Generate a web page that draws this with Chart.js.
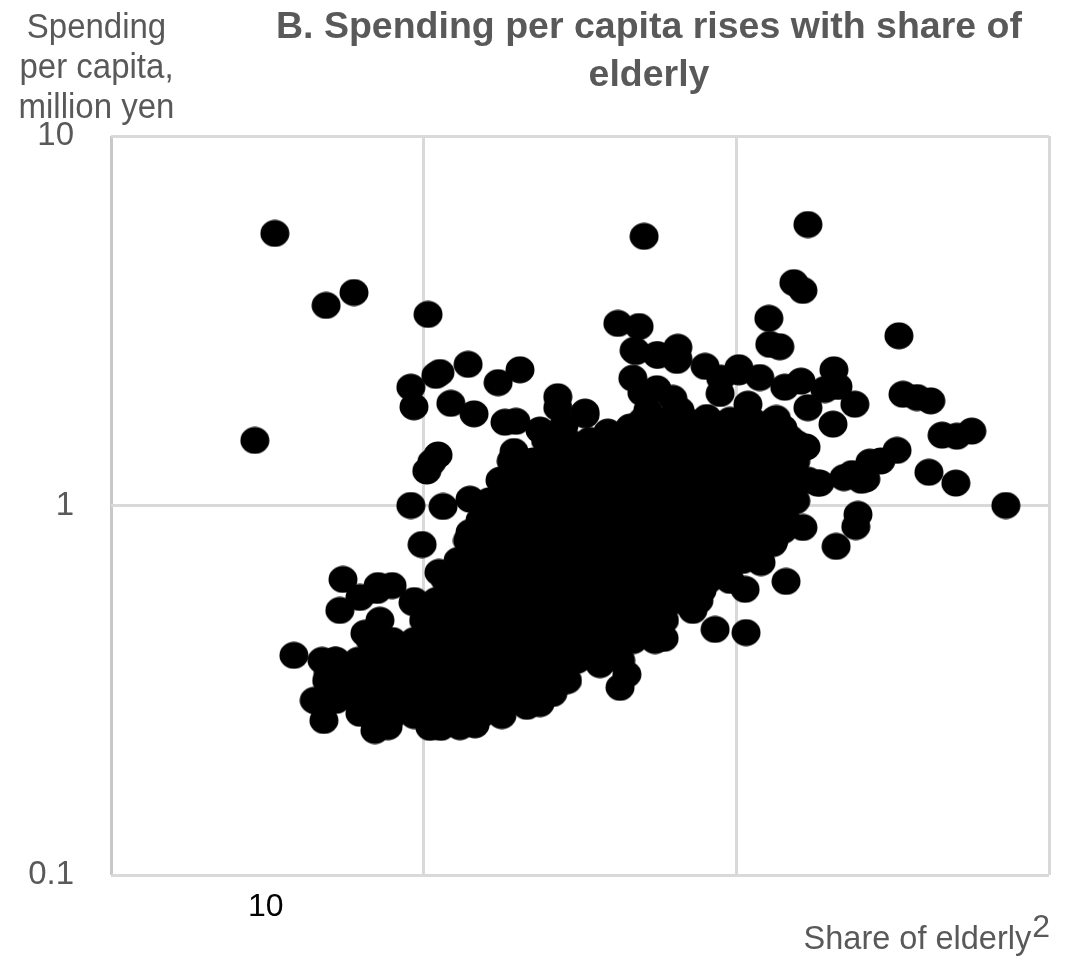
<!DOCTYPE html>
<html>
<head>
<meta charset="utf-8">
<script src="https://cdn.jsdelivr.net/npm/chart.js@4/dist/chart.umd.min.js"></script>
<style>
  html, body { margin: 0; padding: 0; background: #fff; }
  #wrap { position: relative; width: 1074px; height: 959px; overflow: hidden; font-family: "Liberation Sans", Arial, sans-serif; color: #595959; }
  canvas { position: absolute; left: 0; top: 0; }
  .lbl { position: absolute; text-align: center; white-space: nowrap; }
  #title { left: 249px; width: 800px; top: 1px; font-size: 37.5px; line-height: 48px; font-weight: bold; }
  #ylab { left: 0; width: 193px; top: 6px; font-size: 33px; line-height: 37px; transform: scaleY(1.08); transform-origin: top; }
  #xlab { right: 24px; top: 918px; font-size: 32.5px; line-height: 40px; }
  #xlab sup { font-size: 32px; line-height: 0; vertical-align: 12px; margin-left: 1px; }
</style>
</head>
<body>
<div id="wrap">
  <canvas id="c" width="1074" height="959"></canvas>
  <div class="lbl" id="title">B. Spending per capita rises with share of<br>elderly</div>
  <div class="lbl" id="ylab">Spending<br>per capita,<br>million yen</div>
  <div class="lbl" id="xlab">Share of elderly<sup>2</sup></div>
</div>
<script>
// x is read as position along the axis, 100 units per gridline
const xTickLabels = { 49.5: '10' };
const yTickLabels = { 0.1: '0.1', 1: '1', 10: '10' };

// points that stand clear of the cloud
const edgeShare = [52.4, 68.8, 77.7, 46, 101.4, 170.5, 222.9, 218.4, 221.3, 210.4, 210.7, 213.9, 252, 162.1, 168.9, 167.9, 174.6, 181.3, 181.3, 190, 200.8, 207.5, 200.8, 195, 215.5, 220.7, 231.2, 232.5, 228.3, 222.9, 237.9, 230.9, 253.3, 257.8, 262.2, 265.8, 270.5, 275.3, 251.4, 246.2, 242.7, 237, 234.4, 241.4, 261.6, 270.2, 286.2, 238.9, 238.2, 231.9, 215.9, 221.3, 207.9, 202.8, 203.1, 193.2, 185.8, 176.9, 162.8, 165, 156.4, 226.7, 222.3, 217.1, 212.8, 203.7,
  95.9, 96.9, 103.9, 105.2, 114.2, 123.8, 130.8, 108.7, 116.1, 126, 129.5, 142.9, 142.9, 137.2, 144.9, 151.6, 158.9, 151.9, 128.9, 104.6, 102.6, 101, 95.9, 106.2, 114.8, 99.5, 104.9, 74.2, 73.2, 58.5, 67.5, 71.6, 69.5, 65.9, 68.1, 84.4, 88.6, 85.4, 89.9, 79.6, 96.6, 84.4, 102, 105.5, 111.6, 116.4, 133, 137.2, 145.2,
  167.3, 174.9, 181, 166.9, 169.8, 174.6, 179.7, 171.7, 182, 194.8, 190.6, 214.9, 219.4, 226, 240, 214.9, 211.7, 195.7, 189, 186.1, 151.6, 151.6, 166, 124.4, 79.6, 81.2, 85.1, 141.3, 114.8, 115.8];
const edgeSpending = [5.45, 3.48, 3.77, 1.5, 3.29, 5.35, 5.76, 4.01, 3.82, 3.21, 2.73, 2.69, 2.88, 3.11, 3.05, 2.61, 2.56, 2.68, 2.5, 2.38, 2.36, 2.22, 2.3, 2.21, 2.09, 2.17, 2.33, 2.1, 2.06, 1.84, 1.88, 1.66, 2, 1.96, 1.92, 1.55, 1.54, 1.59, 1.41, 1.32, 1.31, 1.22, 1.19, 1.18, 1.23, 1.15, 1, 0.946, 0.877, 0.775, 0.623, 0.872, 0.701, 0.593, 0.453, 0.462, 0.533, 0.437, 0.322, 0.349, 0.371, 1.15, 1.44, 1.52, 1.72, 1.88,
  2.09, 1.85, 2.25, 2.29, 2.41, 2.15, 2.33, 1.89, 1.77, 1.68, 1.69, 1.97, 1.84, 1.6, 1.65, 1.76, 1.58, 1.41, 1.4, 1.37, 1.31, 1.24, 1, 0.994, 1.04, 0.784, 0.659, 0.631, 0.52, 0.393, 0.381, 0.381, 0.353, 0.295, 0.262, 0.246, 0.252, 0.607, 0.607, 0.564, 0.546, 0.459, 0.251, 0.251, 0.252, 0.255, 0.286, 0.291, 0.336,
  2.63, 2.55, 2.47, 2.21, 2.02, 2.07, 1.95, 1.81, 1.81, 2.01, 1.73, 1.62, 1.47, 1.15, 1.17, 0.856, 0.789, 0.659, 0.589, 0.52, 1.79, 1.44, 1.63, 1.17, 0.274, 0.451, 0.589, 0.31, 0.845, 0.77];

// the dense cloud, read band by band
const coreSpending = [1.7, 1.5, 1.32, 1.17, 1.03, 0.911, 0.804, 0.71, 0.627, 0.553, 0.489, 0.431, 0.381, 0.336, 0.297, 0.27];
const coreShare = [
  [170, 177, 184, 191, 198, 205, 212],
  [139, 146, 153, 160, 167, 174, 181, 188, 195, 202, 209, 216],
  [128, 135, 142, 149, 156, 163, 170, 177, 184, 191, 198, 205, 212, 219],
  [125, 132, 139, 146, 153, 160, 167, 174, 181, 188, 195, 202, 209, 216, 223],
  [121, 128, 135, 142, 149, 156, 163, 170, 177, 184, 191, 198, 205, 212, 219],
  [118, 125, 132, 139, 146, 153, 160, 167, 174, 181, 188, 195, 202, 209, 216],
  [114, 121, 128, 135, 142, 149, 156, 163, 170, 177, 184, 191, 198, 205, 212],
  [111, 118, 125, 132, 139, 146, 153, 160, 167, 174, 181, 188, 195, 202],
  [107, 114, 121, 128, 135, 142, 149, 156, 163, 170, 177, 184, 191, 198],
  [97, 104, 111, 118, 125, 132, 139, 146, 153, 160, 167, 174, 181, 188],
  [86, 100, 107, 114, 121, 128, 135, 142, 149, 156, 163, 170, 177],
  [83, 90, 97, 104, 111, 118, 125, 132, 139, 146, 153, 160, 167, 174],
  [72, 79, 86, 93, 100, 107, 114, 121, 128, 135, 142, 149, 156, 163],
  [69, 76, 83, 90, 97, 104, 111, 118, 125, 132, 139, 146],
  [65, 72, 79, 86, 93, 100, 107, 114, 121, 128, 135],
  [83, 90, 97, 104, 111, 118, 125]
];

const points = edgeShare.map((x, i) => ({ x, y: edgeSpending[i] }));
coreShare.forEach((row, i) => row.forEach(x => points.push({ x, y: coreSpending[i] })));

// markers in the picture are slightly wider than tall
const dot = document.createElement('canvas');
dot.width = 30; dot.height = 28;
const dctx = dot.getContext('2d');
dctx.fillStyle = '#000';
dctx.beginPath();
dctx.ellipse(15, 14, 14.5, 13.5, 0, 0, Math.PI * 2);
dctx.fill();

new Chart(document.getElementById('c'), {
  type: 'scatter',
  data: { datasets: [{ data: points, pointStyle: dot, pointRadius: 14, pointHoverRadius: 14 }] },
  options: {
    responsive: false,
    animation: false,
    layout: { padding: { top: 136, right: 25, left: 0, bottom: 0 } },
    plugins: { legend: { display: false }, tooltip: { enabled: false } },
    scales: {
      x: {
        type: 'linear', min: 0, max: 300,
        afterFit: s => { s.height = 84; },
        afterBuildTicks: s => { s.ticks = [0, 49.5, 100, 200, 300].map(value => ({ value })); },
        grid: {
          color: c => {
            if (!c.tick || c.tick.value % 100 !== 0) return 'rgba(0,0,0,0)';
            return c.tick.value === 0 ? '#c8c8c8' : '#d9d9d9';
          },
          lineWidth: 3, drawTicks: false
        },
        border: { display: false },
        ticks: {
          autoSkip: false, maxRotation: 0, padding: 13, color: '#000',
          font: { family: 'Liberation Sans', size: 32 },
          callback: v => xTickLabels[v] || ''
        }
      },
      y: {
        type: 'logarithmic', min: 0.1, max: 10,
        afterFit: s => { s.width = 111; },
        afterBuildTicks: s => { s.ticks = [0.1, 1, 10].map(value => ({ value })); },
        grid: { color: '#d9d9d9', lineWidth: 3, drawTicks: false },
        border: { display: false },
        ticks: {
          autoSkip: false, padding: 37, color: '#595959',
          font: { family: 'Liberation Sans', size: 33 },
          callback: v => yTickLabels[v] || ''
        }
      }
    }
  }
});
</script>
</body>
</html>
